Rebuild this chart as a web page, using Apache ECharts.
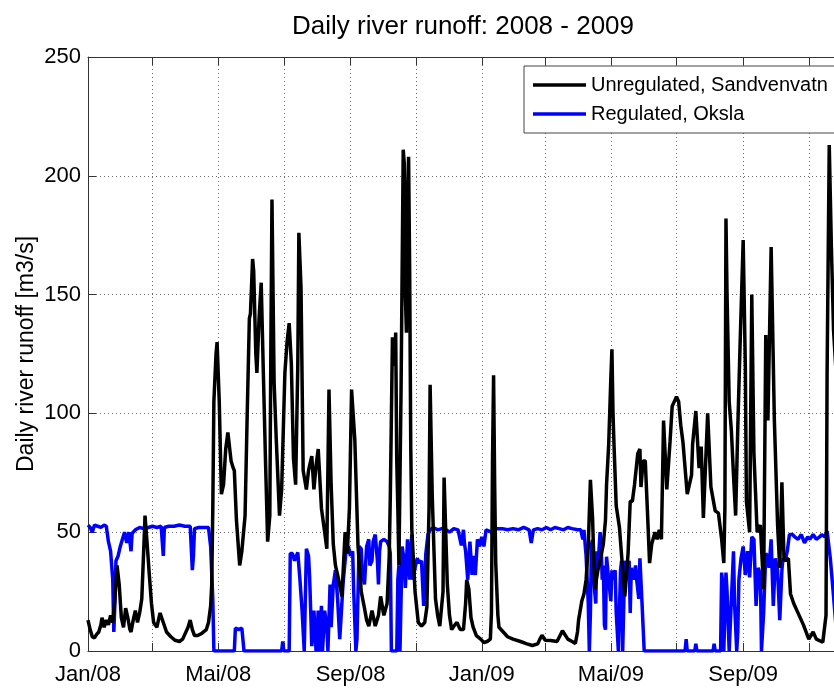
<!DOCTYPE html>
<html>
<head>
<meta charset="utf-8">
<title>Daily river runoff: 2008 - 2009</title>
<script src="https://cdn.jsdelivr.net/npm/echarts@6/dist/echarts.min.js"></script>
<style>
  html, body { margin: 0; padding: 0; background: #fff; overflow: hidden; }
  #chart { width: 926px; height: 693px; }
</style>
</head>
<body>
<div id="chart"></div>
<script>
// Period shown on the time axis: daily values from 1 Jan 2008
const startDate = '2008-01-01';
const dayCount = 700;

// Month abbreviations used in the date tick labels
const monthNames = ['Jan', 'Feb', 'Mar', 'Apr', 'Mai', 'Jun', 'Jul', 'Aug', 'Sep', 'Okt', 'Nov', 'Des'];
const gridMonths = [0, 2, 4, 6, 8, 10];   // ticks + grid lines every second month
const labelMonths = [0, 4, 8];            // labelled ticks: Jan, Mai, Sep

// Y axis ticks
const yTicks = [0, 50, 100, 150, 200, 250];

// Series names
const seriesNames = ['Unregulated, Sandvenvatn', 'Regulated, Oksla'];

// Unregulated runoff, Sandvenvatn [day since 1 Jan 2008, m3/s]
const sandvenvatn = [
  [0,13],[2,9],[4,6],[6,5.5],[8,7],[10,8],[12,11],[13,14],[15,10],[17,13],[19,11],[21,15],[23,12],[25,22],[27,36],[29,28],
  [31,14],[33,10],[35,18],[37,14],[39,9],[40,8],[42,13],[44,17],[46,12],[48,16],[50,22],[52,45],[53,57],[55,45],[57,32],[59,20],
  [61,12],[64,10],[67,16],[70,12],[73,8],[77,6],[81,4.5],[85,4],[88,5],[90,7],[93,10],[95,13],[97,9],[99,6.5],[102,6.5],[106,7.5],
  [110,9],[112,12],[114,19],[115,28],[116,60],[117,105],[119,125],[120,130],[122,105],[124,66],[126,70],[128,85],[130,92],[133,80],
  [135,77],[136,76],[138,55],[141,36],[143,42],[146,57],[148,100],[150,140],[151,142],[153,165],[154,160],[156,125],[157,117],
  [159,140],[161,155],[163,117],[165,80],[167,46],[169,57],[170,130],[171,190],[173,113],[175,89],[178,57],[180,68],[183,117],
  [185,130],[187,138],[189,121],[191,81],[193,70],[195,120],[196,176],[198,153],[200,76],[203,68],[205,76],[208,82],[210,68],
  [212,78],[214,85],[217,60],[220,50],[222,43],[224,110],[226,70],[228,45],[230,36],[233,30],[236,23],[239,50],[241,41],[243,60],
  [245,110],[248,89],[251,44],[254,25],[257,18],[259,13],[261,10.5],[264,17],[267,10.5],[270,15],[272,23],[275,15],[278,20],
  [280,40],[281,65],[283,132],[285,120],[286,134],[287,80],[288,60],[289,36],[291,110],[292,160],[293,211],[294,205],[295,150],
  [296,134],[297,190],[298,208],[299,160],[300,86],[301,51],[304,25],[307,12],[310,10.5],[313,12],[315,18.5],[317,60],[318,112],
  [320,65],[323,22],[325,15],[327,10.5],[330,25],[331,73],[334,28],[336,15],[338,9],[341,11],[343,12],[346,9],[349,9],[351,20],
  [352,30],[354,26],[356,14],[358,10],[361,6.5],[365,5],[368,3.6],[371,4],[374,5],[375,16],[376,80],[377,116],[378,70],[379,37],
  [381,15],[382,10],[386,8],[390,6],[395,5],[402,4],[408,3],[413,2.3],[418,3],[420,5],[422,6.6],[425,4.5],[430,4.4],[436,4],
  [441,8.5],[446,5],[450,4],[453,3.2],[455,8],[456,13],[459,21],[461,24],[463,30],[465,44],[467,72],[469,56],[471,26],[474,34],
  [476,38],[479,45],[481,55],[482,70],[484,87],[486,115],[487,127],[488,100],[489,86],[491,61],[494,52],[496,40],[499,23],[502,41],
  [504,63],[506,63],[508,70],[511,83],[513,85],[514,69],[516,80],[518,80],[520,59],[522,37],[524,45],[527,50],[529,47],[531,51],
  [533,47],[535,97],[538,68],[541,88],[543,103],[546,106],[547,107],[549,105],[551,95],[553,88],[557,66],[559,70],[561,74],
  [562,87],[565,101],[568,77],[570,86],[572,56],[576,100],[579,69],[583,59],[586,58],[589,47],[591,37],[592,60],[593,182],
  [594,150],[596,105],[598,93],[600,74],[602,57],[604,94],[606,127],[609,173],[611,120],[612,63],[615,50],[617,150],[619,83],
  [622,50],[625,53],[628,26],[630,133],[632,97],[635,170],[638,97],[641,53],[643,35],[645,71],[647,38],[651,39],[653,24],
  [656,20],[659,17],[665,11],[670,5],[674,8],[677,5],[683,3.7],[686,15],[687,117],[689,213],[691,170],[693,135],[695,120]
];

// Regulated runoff, Oksla [day since 1 Jan 2008, m3/s]
const oksla = [
  [0,53],[2,52],[4,50],[6,53],[9,52.5],[12,52],[15,53],[17,52.5],[19,46],[21,42],[23,30],[24,8],[25,20],[26,38],[28,40],[30,44],
  [32,47],[34,50],[36,45.5],[38,50],[40,42],[41,49.5],[44,51],[48,52],[52,51.5],[56,52],[60,52.5],[64,52],[68,52.5],[70,40],
  [71,52],[75,52.5],[80,52.5],[85,53],[90,52.5],[95,52.5],[97,34],[98,40],[99,51.5],[103,52],[108,52],[112,52],[114,44],[116,22],
  [117,0],[136,0],[137,9.6],[140,9],[143,9.6],[144,9],[145,0],[180,0],[181,4],[182,0],[187,0],[188,41],[190,41],[192,38],
  [195,41.5],[197,30],[199,17],[201,0],[203,43],[205,40],[206,31],[207,17],[208,2],[210,17],[212,0],[214,17],[215,0],[217,19],
  [218,0],[220,17],[222,10],[223,0],[225,28],[226,10],[228,28],[230,34],[232,22],[234,5],[236,20],[237,28],[240,43],[242,44],
  [244,40],[246,42],[247,25],[249,0],[250,5],[252,44],[254,43],[255,33],[257,28],[259,44],[261,47],[262,36],[264,38],[265,46],
  [267,49],[269,38],[270,28],[271,42],[272,46],[275,47],[278,46],[280,44],[281,41],[282,0],[287,0],[288,30],[289,36],[290,0],
  [292,44],[294,38],[295,26.5],[297,47],[299,30],[300,42],[301,49],[302,30],[304,35],[306,39],[308,37],[310,38],[312,19],
  [314,41],[316,49],[318,51],[321,52],[325,51],[329,51.5],[333,51],[336,50],[340,51.5],[344,51],[347,44.5],[349,51],[350,45],
  [351,42],[353,30],[355,46],[357,32],[358,40],[360,32],[362,47],[364,44],[366,48],[368,44],[370,51],[375,50],[377,48],
  [379,51.5],[385,51.5],[390,51],[395,51.5],[400,51],[405,52],[410,51],[412,45.5],[414,51],[418,51.5],[422,51],[426,52],
  [430,51],[434,52],[438,51.5],[442,51],[446,52],[450,51.5],[455,51],[458,51],[460,47],[461,51],[463,40],[464,30],[465,20],
  [466,0],[467,16],[468,45],[469,46.7],[470,37],[471,25],[472,20],[473,42],[474,35],[476,50],[477,44],[478,30],[479,36],
  [480,11],[481,9],[482,39.7],[484,30],[486,21],[487,34],[488,30],[490,34],[491,16],[493,0],[495,34],[496,38],[497,0],[499,38],
  [501,30],[503,38],[504,16],[505,35],[507,30],[509,36],[510,30],[512,22],[513,39],[514,39],[515,20],[517,0],[555,0],[556,5],
  [557,0],[564,0],[565,3],[566,0],[581,0],[582,3],[583,0],[588,0],[589,33],[590,28],[591,0],[593,33],[594,25],[596,0],[597,0],
  [600,42],[601,20],[603,0],[604,8],[605,30],[607,39],[609,44],[611,32],[613,42],[615,31],[617,48],[619,47],[621,19],[623,35],
  [625,32],[626,0],[628,16],[630,41],[632,40],[633,35],[635,47],[637,19],[639,39],[641,34],[643,13],[645,34],[646,39],[648,38],
  [650,42],[652,49],[655,49],[657,48],[660,47],[663,49],[666,45.5],[669,48],[671,47],[674,49],[677,47],[680,48],[682,49],
  [685,48],[687,50.5],[688,50],[690,39],[693,23],[695,12]
];

// Build the daily category list (one entry per calendar day)
const days = [];
(function () {
  const d = new Date(startDate + 'T00:00:00Z');
  for (let i = 0; i < dayCount; i++) {
    days.push(d.toISOString().slice(0, 10));
    d.setUTCDate(d.getUTCDate() + 1);
  }
})();

function monthStart(value, months) {
  const m = parseInt(value.slice(5, 7), 10) - 1;
  return value.slice(8, 10) === '01' && months.indexOf(m) >= 0;
}
function dateLabel(value) {
  const m = parseInt(value.slice(5, 7), 10) - 1;
  return monthNames[m] + '/' + value.slice(2, 4);
}

const FONT = '"Liberation Sans", Arial, Helvetica, sans-serif';
const AXIS_COLOR = '#333333';
const GRID_LINE = { color: '#6e6e6e', width: 1, type: [1, 3] };
const LINE_WIDTH = 3.5;

const chart = echarts.init(document.getElementById('chart'), null, { renderer: 'canvas' });

chart.setOption({
  animation: false,
  backgroundColor: '#ffffff',
  textStyle: { fontFamily: FONT },
  title: {
    text: 'Daily river runoff: 2008 - 2009',
    left: 'center',
    top: 14,
    padding: 0,
    textStyle: { fontFamily: FONT, fontSize: 26, fontWeight: 'normal', color: '#000' }
  },
  legend: {
    data: [
      { name: seriesNames[0], itemStyle: { color: '#000000' } },
      { name: seriesNames[1], itemStyle: { color: '#0000ff' } }
    ],
    orient: 'vertical',
    left: 524,
    top: 66,
    padding: [9, 20, 9, 9],
    icon: 'rect',
    itemWidth: 53,
    itemHeight: 3.5,
    itemGap: 9,
    backgroundColor: '#ffffff',
    borderColor: '#444444',
    borderWidth: 1,
    borderRadius: 0,
    textStyle: { fontFamily: FONT, fontSize: 20, color: '#000', lineHeight: 20 }
  },
  grid: { left: 88, right: 86, top: 57, bottom: 42, containLabel: false },
  xAxis: [
    {
      type: 'category',
      data: days,
      boundaryGap: false,
      position: 'bottom',
      axisLine: { show: true, lineStyle: { color: AXIS_COLOR, width: 1 } },
      axisTick: {
        show: true, inside: true, length: 8,
        interval: (i, v) => monthStart(v, gridMonths),
        lineStyle: { color: AXIS_COLOR }
      },
      axisLabel: {
        interval: (i, v) => monthStart(v, labelMonths),
        formatter: dateLabel,
        fontFamily: FONT, fontSize: 22, color: '#000', margin: 13
      },
      splitLine: {
        show: true,
        interval: (i, v) => monthStart(v, gridMonths),
        lineStyle: GRID_LINE
      }
    },
    {
      type: 'category',
      data: days,
      boundaryGap: false,
      position: 'top',
      axisLine: { show: true, lineStyle: { color: AXIS_COLOR, width: 1 } },
      axisTick: {
        show: true, inside: true, length: 8,
        interval: (i, v) => monthStart(v, gridMonths),
        lineStyle: { color: AXIS_COLOR }
      },
      axisLabel: { show: false },
      splitLine: { show: false }
    }
  ],
  yAxis: {
    type: 'value',
    min: yTicks[0],
    max: yTicks[yTicks.length - 1],
    interval: yTicks[1] - yTicks[0],
    name: 'Daily river runoff [m3/s]',
    nameLocation: 'middle',
    nameGap: 50,
    nameMoveOverlap: false,
    nameTextStyle: { fontFamily: FONT, fontSize: 23, color: '#000' },
    axisLine: { show: true, lineStyle: { color: AXIS_COLOR, width: 1 } },
    axisTick: { show: true, inside: true, length: 8, lineStyle: { color: AXIS_COLOR } },
    axisLabel: { fontFamily: FONT, fontSize: 22, color: '#000', margin: 7 },
    splitLine: { show: true, lineStyle: GRID_LINE }
  },
  series: [
    {
      name: seriesNames[0],
      type: 'line',
      xAxisIndex: 0,
      data: sandvenvatn,
      symbol: 'none',
      showSymbol: false,
      z: 3,
      lineStyle: { color: '#000000', width: LINE_WIDTH },
      itemStyle: { color: '#000000' }
    },
    {
      name: seriesNames[1],
      type: 'line',
      xAxisIndex: 0,
      data: oksla,
      symbol: 'none',
      showSymbol: false,
      z: 2,
      lineStyle: { color: '#0000ff', width: LINE_WIDTH },
      itemStyle: { color: '#0000ff' }
    }
  ]
});
</script>
</body>
</html>
